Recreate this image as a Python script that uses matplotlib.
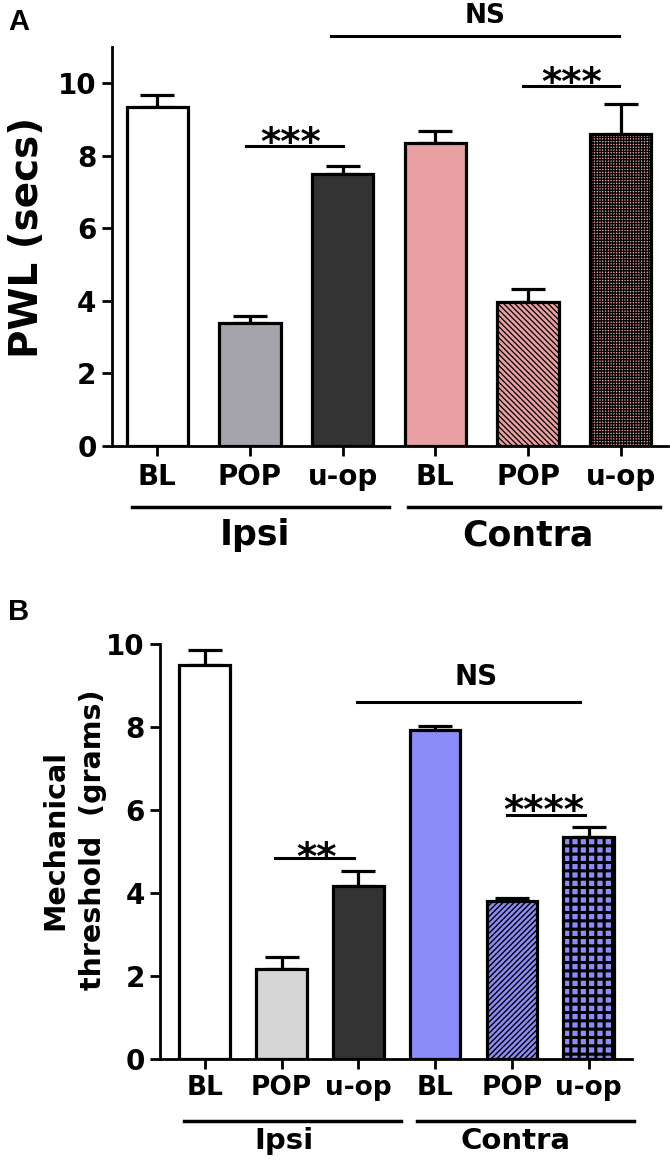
import numpy as np
import matplotlib
matplotlib.use('Agg')
from matplotlib import pyplot as plt
from matplotlib import transforms

plt.rcParams['font.family'] = ['DejaVu Sans']
plt.rcParams['font.weight'] = 'bold'
plt.rcParams['hatch.linewidth'] = 1.0

## data -----------------------------
conditions = ['BL', 'POP', 'u-op', 'BL', 'POP', 'u-op']
groups = ['Ipsi', 'Contra']

pwl_mean = [9.35, 3.38, 7.50, 8.35, 3.97, 8.58]
pwl_sem = [0.33, 0.20, 0.21, 0.34, 0.36, 0.83]

mech_mean = [9.48, 2.16, 4.17, 7.93, 3.80, 5.33]
mech_sem = [0.37, 0.29, 0.36, 0.09, 0.08, 0.26]

colors_a = ['white', '#a4a4aa', '#333333', '#e9a0a2', '#e9a0a2', '#e9a0a2']
hatch_a = [None, None, None, None, '\\\\\\\\\\\\', '++++++']
hatch_lw_a = [1, 1, 1, 1, 0.9, 0.95]

colors_b = ['white', '#d6d6d6', '#333333', '#8c8cf8', '#8c8cf8', '#8c8cf8']
hatch_b = [None, None, None, None, '//////', '++']
hatch_lw_b = [1, 1, 1, 1, 1.0, 2.2]

x = np.arange(len(conditions))


def stars(ax, fig, xc, yc, s, size):
    # baseline shifted so the glyph centre sits at yc
    tr = transforms.offset_copy(ax.transData, fig=fig, y=-0.57 * size, units='points')
    ax.text(xc, yc, s, transform=tr, ha='center', va='baseline',
            fontsize=size, fontweight='bold', clip_on=False)


def panel(ax, means, sems, colors, hatches, hatch_lws, ylim, xlim, lab_size):
    bars = ax.bar(x, means, width=0.66, color=colors, edgecolor='black',
                  linewidth=2.3, zorder=3)
    for b, h, hl in zip(bars, hatches, hatch_lws):
        if h:
            b.set_hatch(h)
            if hasattr(b, 'set_hatch_linewidth'):
                b.set_hatch_linewidth(hl)
    ax.errorbar(x, means, yerr=[np.zeros(len(means)), sems], fmt='none',
                ecolor='black', elinewidth=2.3, capsize=12, capthick=2.3, zorder=2)
    ax.set_xlim(*xlim)
    ax.set_ylim(*ylim)
    ax.set_yticks(np.arange(0, 11, 2))
    ax.set_xticks(x)
    ax.set_xticklabels(conditions, fontsize=lab_size, fontweight='bold')
    ax.tick_params(axis='y', labelsize=20, width=2, length=7, pad=4)
    ax.tick_params(axis='x', width=2, length=7, pad=5)
    for t in ax.get_yticklabels():
        t.set_fontweight('bold')
    ax.spines['top'].set_visible(False)
    ax.spines['right'].set_visible(False)
    ax.spines['left'].set_linewidth(2)
    ax.spines['bottom'].set_linewidth(2)


fig = plt.figure(figsize=(6.7, 11.66), dpi=100)

# ---------- A : PWL ----------
axA = fig.add_axes([0.167, 0.6175, 0.83, 0.3425])
panel(axA, pwl_mean, pwl_sem, colors_a, hatch_a, hatch_lw_a, (0, 11), (-0.49, 5.51), 20)

axA.plot([0.96, 2.0], [8.25, 8.25], color='black', lw=2.2)
stars(axA, fig, 1.44, 8.62, '***', 28)
axA.plot([3.95, 4.98], [9.92, 9.92], color='black', lw=2.2)
stars(axA, fig, 4.47, 10.27, '***', 28)
axA.plot([1.87, 4.98], [11.3, 11.3], color='black', lw=2.2, clip_on=False)
axA.text(3.54, 11.84, 'NS', ha='center', va='center', fontsize=19, fontweight='bold')

axA.plot([-0.27, 2.5], [-1.67, -1.67], color='black', lw=2.5, clip_on=False)
axA.plot([2.7, 5.42], [-1.67, -1.67], color='black', lw=2.5, clip_on=False)
axA.text(1.05, -2.46, groups[0], ha='center', va='center', fontsize=25, fontweight='bold')
axA.text(4.0, -2.46, groups[1], ha='center', va='center', fontsize=25, fontweight='bold')

fig.text(27 / 670, 0.796, 'PWL (secs)', rotation=90, ha='center', va='center',
         fontsize=28, fontweight='bold')
fig.text(19 / 670, 1 - 22 / 1166, 'A', ha='center', va='center', fontsize=21,
         fontweight='bold', family='Liberation Sans')

# ---------- B : mechanical threshold ----------
axB = fig.add_axes([0.239, 0.092, 0.704, 0.356])
panel(axB, mech_mean, mech_sem, colors_b, hatch_b, hatch_lw_b, (0, 10), (-0.58, 5.56), 19)

axB.plot([0.92, 1.95], [4.84, 4.84], color='black', lw=2.2)
stars(axB, fig, 1.45, 5.09, '**', 28)
axB.plot([3.94, 4.95], [5.86, 5.86], color='black', lw=2.2)
stars(axB, fig, 4.42, 6.22, '****', 28)
axB.plot([1.98, 4.89], [8.6, 8.6], color='black', lw=2.2)
axB.text(3.53, 9.2, 'NS', ha='center', va='center', fontsize=20, fontweight='bold')

axB.plot([-0.27, 2.56], [-1.49, -1.49], color='black', lw=2.5, clip_on=False)
axB.plot([2.76, 5.59], [-1.49, -1.49], color='black', lw=2.5, clip_on=False)
axB.text(1.03, -1.98, groups[0], ha='center', va='center', fontsize=21, fontweight='bold')
axB.text(4.04, -1.98, groups[1], ha='center', va='center', fontsize=21, fontweight='bold')

fig.text(74 / 670, 0.28, 'Mechanical\nthreshold  (grams)', rotation=90, ha='center',
         va='center', multialignment='center', fontsize=20.5, fontweight='bold',
         linespacing=1.45)
fig.text(19 / 670, 1 - 612 / 1166, 'B', ha='center', va='center', fontsize=21,
         fontweight='bold', family='Liberation Sans')

plt.savefig('out.png', dpi=100)
